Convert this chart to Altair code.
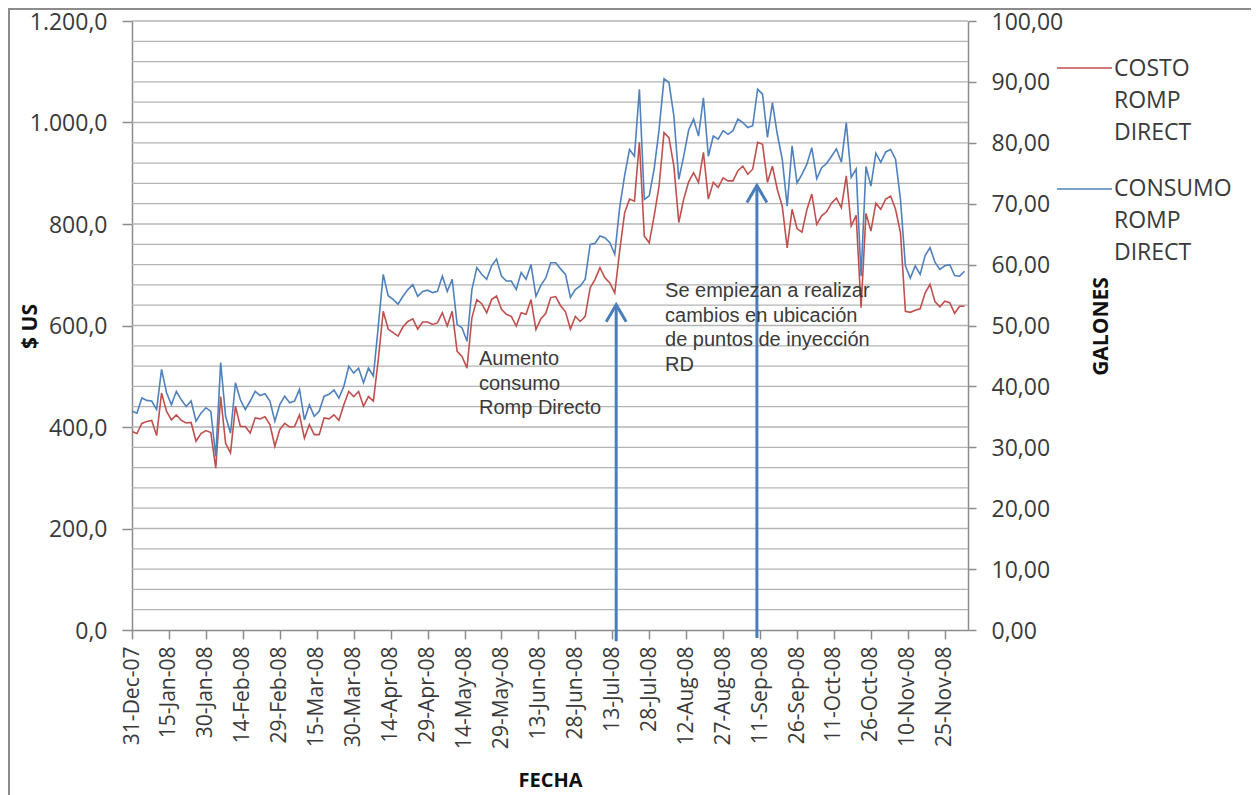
import altair as alt
import pandas as pd

# ---------------- data ----------------
START = "2007-12-31"
STEP = "2D"

COSTO = [
    391, 387, 407, 411, 413, 383, 467, 431, 414, 424, 413, 408, 409, 372, 387, 393, 389, 319, 460, 368,
    349, 441, 401, 401, 388, 418, 416, 420, 405, 362, 395, 407, 400, 401, 424, 378, 405, 385, 385, 418,
    416, 424, 413,
    444, 470, 460, 470, 441, 460, 451, 533, 628, 593, 586, 579, 597, 608, 613, 593, 607, 607, 602, 605,
    625, 599, 628, 549, 539, 516, 615, 651, 643, 625, 651, 658, 632, 622, 618, 599, 625, 622, 651, 592,
    613, 624, 655,
    657, 639, 627, 593, 618, 608, 618, 674, 691, 714, 694, 684, 664, 747, 822, 849, 845, 961, 776, 763,
    816, 875, 980, 970, 914, 803, 849, 883, 901, 882, 941, 849, 882, 872, 891, 885, 885, 905, 914, 898,
    908, 961,
    957, 882, 914, 868, 835, 753, 829, 791, 784, 828, 859, 799, 816, 824, 841, 851, 832, 895, 796, 817,
    635, 821, 786, 841, 829, 849, 855, 829, 783, 628, 626, 630, 633, 664, 681, 647, 637, 648, 645, 624,
    638, 638,
]

CONSUMO = [
    35.9, 35.6, 38.1, 37.7, 37.6, 36.2, 42.8, 39.0, 37.0, 39.2, 37.8, 36.7, 37.6, 34.3, 35.6, 36.5, 35.9, 28.5, 43.9, 35.1,
    32.3, 40.6, 37.8, 36.2, 37.6, 39.2, 38.5, 38.8, 37.6, 34.3, 37.0, 38.4, 37.3, 37.6, 39.5, 34.5, 37.0, 35.1, 35.9, 38.4,
    38.7, 39.4, 38.1,
    40.0, 43.3, 42.2, 43.0, 40.6, 43.0, 41.7, 49.9, 58.4, 54.9, 54.3, 53.5, 54.8, 55.9, 56.7, 54.8, 55.6, 55.8, 55.4, 55.6,
    58.1, 55.6, 57.6, 50.2, 49.6, 47.4, 55.9, 59.5, 58.4, 57.6, 59.8, 60.9, 58.1, 57.3, 57.3, 55.9, 58.7, 57.6, 60.0, 54.8,
    56.6, 57.8, 60.3,
    60.3, 59.3, 58.4, 54.6, 55.9, 56.5, 57.6, 63.3, 63.5, 64.7, 64.4, 63.6, 61.7, 69.4, 74.6, 78.9, 77.8, 88.8, 70.7, 71.3,
    75.7, 82.2, 90.5, 89.9, 84.4, 74.0, 77.8, 82.1, 83.9, 81.1, 87.4, 77.8, 81.1, 80.6, 82.0, 81.4, 82.0, 83.9, 83.3, 82.5,
    82.8, 88.8,
    88.0, 80.9, 86.6, 81.4, 77.3, 69.6, 79.5, 73.4, 74.8, 76.5, 79.2, 74.1, 75.9, 76.6, 77.8, 79.0, 76.8, 83.3, 74.3, 75.7,
    58.1, 76.1, 72.9, 78.3, 76.8, 78.5, 78.9, 77.3, 70.7, 59.8, 57.8, 59.8, 58.4, 61.5, 62.8, 60.4, 59.2, 59.8, 60.0, 58.2,
    58.1, 58.9,
]

TICK_DATES = [
    (2007, 12, 31), (2008, 1, 15), (2008, 1, 30), (2008, 2, 14), (2008, 2, 29), (2008, 3, 15),
    (2008, 3, 30), (2008, 4, 14), (2008, 4, 29), (2008, 5, 14), (2008, 5, 29), (2008, 6, 13),
    (2008, 6, 28), (2008, 7, 13), (2008, 7, 28), (2008, 8, 12), (2008, 8, 27), (2008, 9, 11),
    (2008, 9, 26), (2008, 10, 11), (2008, 10, 26), (2008, 11, 10), (2008, 11, 25),
]
LEFT_TICKS = [0, 200, 400, 600, 800, 1000, 1200]
RIGHT_TICKS = [0, 10, 20, 30, 40, 50, 60, 70, 80, 90, 100]
GRID_LINES = list(range(40, 1201, 40))

ARROW_DATES = ["2008-07-14T14:00:00Z", "2008-09-09T17:00:00Z"]
ARROW_TIPS = [641, 876]
ARROW_BASES = [-22, -16]

NOTE_DATES = ["2008-05-19T21:00:00Z", "2008-08-03T10:00:00Z"]
NOTE_Y = [522, 656]
NOTE_TEXT = [
    ["Aumento", "consumo", "Romp Directo"],
    ["Se empiezan a realizar", "cambios en ubicación", "de puntos de inyección", "RD"],
]

LEGEND_COSTO = ["COSTO", "ROMP", "DIRECT"]
LEGEND_CONSUMO = ["CONSUMO", "ROMP", "DIRECT"]

# ---------------- styling ----------------
RED = "#C0504D"
BLUE = "#4F81BD"
ARROW = "#4A7EBB"
GRAY = "#8c8c8c"
GRIDC = "#b4b4b4"
TXT = "#3a3a3a"
FONT = "Open Sans"
W, H = 836, 609

dates = pd.date_range(START, periods=len(COSTO), freq=STEP).strftime("%Y-%m-%d")
df = pd.DataFrame({"fecha": dates, "costo": COSTO, "consumo": CONSUMO})
grid_df = pd.DataFrame({"v": GRID_LINES})
arrow_df = pd.DataFrame({"fecha": ARROW_DATES, "tip": ARROW_TIPS, "base": ARROW_BASES})
note_df = pd.DataFrame({"fecha": NOTE_DATES, "y": NOTE_Y, "txt": NOTE_TEXT})
one = pd.DataFrame({"k": [0]})

x_scale = alt.Scale(
    type="utc",
    domain=[alt.DateTime(year=2007, month=12, date=31, utc=True),
            alt.DateTime(year=2008, month=12, date=4, hours=10, utc=True)],
)
yl_scale = alt.Scale(domain=[0, 1200], nice=False, zero=True)
yr_scale = alt.Scale(domain=[0, 100], nice=False, zero=True)

x_axis = alt.Axis(
    values=[alt.DateTime(year=a, month=b, date=c, utc=True) for a, b, c in TICK_DATES],
    format="%d-%b-%y",
    labelAngle=270,
    labelOverlap=False,
    labelFlush=False,
    labelBound=False,
    labelFont=FONT,
    labelFontSize=21,
    labelColor=TXT,
    labelPadding=7,
    tickSize=9,
    tickColor=GRAY,
    tickWidth=1.5,
    domainColor=GRAY,
    domainWidth=1.5,
    grid=False,
    title="FECHA",
    titleFont=FONT,
    titleFontSize=20,
    titleFontWeight="bold",
    titleColor="#111111",
    titleY=156,
    titleBaseline="alphabetic",
)


def X(field="fecha:T"):
    return alt.X(field, scale=x_scale, axis=x_axis)


left_axis = alt.Axis(
    orient="left",
    values=LEFT_TICKS,
    labelExpr="replace(replace(replace(format(datum.value, ',.1f'), ',', '_'), '.', ','), '_', '.')",
    labelFont=FONT,
    labelFontSize=23,
    labelColor=TXT,
    labelPadding=15,
    labelBaseline="alphabetic",
    labelOffset=8,
    tickSize=10,
    tickColor=GRAY,
    tickWidth=1.5,
    domainColor=GRAY,
    domainWidth=1.5,
    grid=False,
    title="$ US",
    titleFont=FONT,
    titleFontSize=21,
    titleFontWeight="bold",
    titleColor="#111111",
    titleAngle=270,
    titleX=-102,
    titleY=305,
    titleAlign="center",
    titleBaseline="middle",
)

right_axis = alt.Axis(
    orient="right",
    values=RIGHT_TICKS,
    labelExpr="replace(format(datum.value, '.2f'), '.', ',')",
    labelFont=FONT,
    labelFontSize=23,
    labelColor=TXT,
    labelPadding=15,
    labelBaseline="alphabetic",
    labelOffset=8,
    tickSize=8,
    tickColor=GRAY,
    tickWidth=1.5,
    domainColor=GRAY,
    domainWidth=1.5,
    grid=False,
    title="GALONES",
    titleFont=FONT,
    titleFontSize=21,
    titleFontWeight="bold",
    titleColor="#111111",
    titleAngle=270,
    titleX=133,
    titleY=305,
    titleAlign="center",
    titleBaseline="middle",
)

frame = alt.Chart(one).mark_rect(fillOpacity=0, stroke=GRAY, strokeWidth=2).encode(
    x=alt.value(-123), x2=alt.value(W + 284), y=alt.value(-12), y2=alt.value(H + 220)
)

grid = alt.Chart(grid_df).mark_rule(color=GRIDC, strokeWidth=1.3).encode(
    y=alt.Y("v:Q", scale=yl_scale, axis=None)
)

red = alt.Chart(df).mark_line(color=RED, strokeWidth=1.6).encode(
    x=X(),
    y=alt.Y("costo:Q", scale=yl_scale, axis=left_axis),
)

blue = alt.Chart(df).mark_line(color=BLUE, strokeWidth=1.6).encode(
    x=X(),
    y=alt.Y("consumo:Q", scale=yr_scale, axis=right_axis),
)

shaft = alt.Chart(arrow_df).mark_rule(color=ARROW, strokeWidth=3).encode(
    x=X(),
    y=alt.Y("tip:Q", scale=yl_scale, axis=None),
    y2="base:Q",
)

head = alt.Chart(arrow_df).mark_point(
    shape="M-1,1.7L0,0L1,1.7", filled=False, size=400, strokeWidth=3, color=ARROW, opacity=1
).encode(
    x=X(),
    y=alt.Y("tip:Q", scale=yl_scale, axis=None),
)

notes = alt.Chart(note_df).mark_text(
    align="left", baseline="alphabetic", font="Liberation Sans", fontSize=20,
    lineHeight=24.5, color=TXT
).encode(
    x=X(),
    y=alt.Y("y:Q", scale=yl_scale, axis=None),
    text="txt",
)

leg_red_line = alt.Chart(one).mark_rule(color=RED, strokeWidth=1.6).encode(
    x=alt.value(925), x2=alt.value(980), y=alt.value(47)
)
leg_red_text = alt.Chart(one).mark_text(
    align="left", baseline="alphabetic", font=FONT, fontSize=23, lineHeight=32, color=TXT
).encode(x=alt.value(982), y=alt.value(55), text=alt.value(LEGEND_COSTO))

leg_blue_line = alt.Chart(one).mark_rule(color=BLUE, strokeWidth=1.6).encode(
    x=alt.value(925), x2=alt.value(980), y=alt.value(168)
)
leg_blue_text = alt.Chart(one).mark_text(
    align="left", baseline="alphabetic", font=FONT, fontSize=23, lineHeight=32, color=TXT
).encode(x=alt.value(982), y=alt.value(175), text=alt.value(LEGEND_CONSUMO))

chart = alt.layer(
    frame, grid, red, blue, shaft, head, notes,
    leg_red_line, leg_red_text, leg_blue_line, leg_blue_text,
).resolve_scale(y="independent").properties(
    width=W,
    height=H,
    autosize=alt.AutoSizeParams(type="none"),
    padding={"left": 124, "top": 13, "right": 283, "bottom": 180},
    background="white",
).configure_view(strokeWidth=0)

chart.save("out.html", embed_options={"renderer": "svg", "actions": False})
